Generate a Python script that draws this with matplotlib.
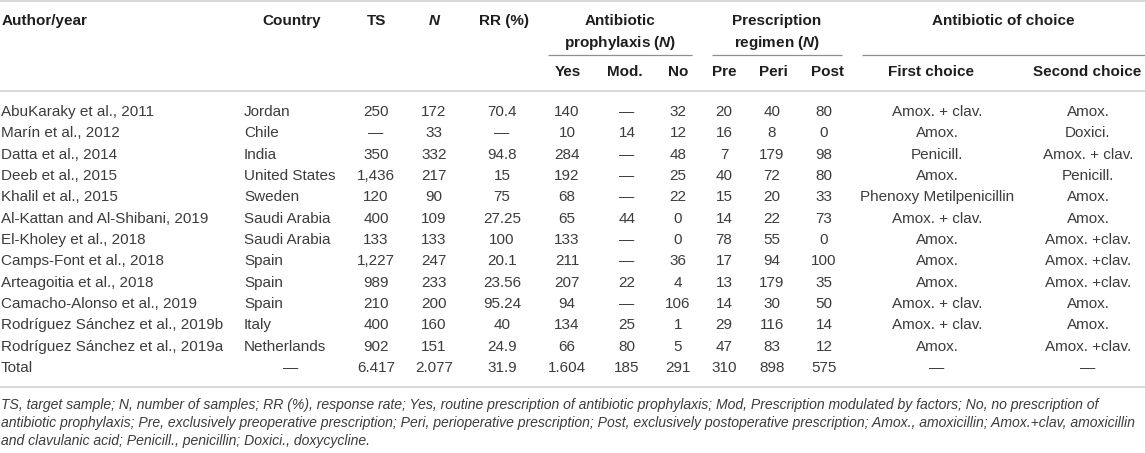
import matplotlib.pyplot as plt

plt.rcParams['font.family'] = ['Liberation Sans', 'DejaVu Sans']
plt.rcParams['mathtext.fontset'] = 'custom'
plt.rcParams['mathtext.bfit'] = 'Liberation Sans:italic:bold'
plt.rcParams['mathtext.it'] = 'Liberation Sans:italic'

authors = ['AbuKaraky et al., 2011', 'Marín et al., 2012', 'Datta et al., 2014',
           'Deeb et al., 2015', 'Khalil et al., 2015', 'Al-Kattan and Al-Shibani, 2019',
           'El-Kholey et al., 2018', 'Camps-Font et al., 2018', 'Arteagoitia et al., 2018',
           'Camacho-Alonso et al., 2019', 'Rodríguez Sánchez et al., 2019b',
           'Rodríguez Sánchez et al., 2019a', 'Total']
countries = ['Jordan', 'Chile', 'India', 'United States', 'Sweden', 'Saudi Arabia',
             'Saudi Arabia', 'Spain', 'Spain', 'Spain', 'Italy', 'Netherlands', '—']
ts = ['250', '—', '350', '1,436', '120', '400', '133', '1,227', '989', '210', '400', '902', '6.417']
n = ['172', '33', '332', '217', '90', '109', '133', '247', '233', '200', '160', '151', '2.077']
rr = ['70.4', '—', '94.8', '15', '75', '27.25', '100', '20.1', '23.56', '95.24', '40', '24.9', '31.9']
yes = ['140', '10', '284', '192', '68', '65', '133', '211', '207', '94', '134', '66', '1.604']
mod = ['—', '14', '—', '—', '—', '44', '—', '—', '22', '—', '25', '80', '185']
no = ['32', '12', '48', '25', '22', '0', '0', '36', '4', '106', '1', '5', '291']
pre = ['20', '16', '7', '40', '15', '14', '78', '17', '13', '14', '29', '47', '310']
peri = ['40', '8', '179', '72', '20', '22', '55', '94', '179', '30', '116', '83', '898']
post = ['80', '0', '98', '80', '33', '73', '0', '100', '35', '50', '14', '12', '575']
first_choice = ['Amox. + clav.', 'Amox.', 'Penicill.', 'Amox.', 'Phenoxy Metilpenicillin',
                'Amox. + clav.', 'Amox.', 'Amox.', 'Amox.', 'Amox. + clav.', 'Amox. + clav.',
                'Amox.', '—']
second_choice = ['Amox.', 'Doxici.', 'Amox. + clav.', 'Penicill.', 'Amox.', 'Amox.',
                 'Amox. +clav.', 'Amox. +clav.', 'Amox. +clav.', 'Amox.', 'Amox.',
                 'Amox. +clav.', '—']

footnote = [
    'TS, target sample; N, number of samples; RR (%), response rate; Yes, routine prescription of antibiotic prophylaxis; Mod, Prescription modulated by factors; No, no prescription of',
    'antibiotic prophylaxis; Pre, exclusively preoperative prescription; Peri, perioperative prescription; Post, exclusively postoperative prescription; Amox., amoxicillin; Amox.+clav, amoxicillin',
    'and clavulanic acid; Penicill., penicillin; Doxici., doxycycline.',
]

W, H = 1145, 453
fig = plt.figure(figsize=(W / 100, H / 100), dpi=100)
ax = fig.add_axes([0, 0, 1, 1])
ax.set_xlim(0, W)
ax.set_ylim(H, 0)
ax.axis('off')

body_col = '#3c3c3c'
head_col = '#1e1e1e'
fs = 11

# horizontal rules
for yl in [1, 91, 387]:
    ax.plot([0, W], [yl, yl], color='#d2d2d2', lw=1.2, solid_capstyle='butt')
for x0, x1 in [(548, 692), (712, 842), (862, W)]:
    ax.plot([x0, x1], [55, 55], color='#8f8f8f', lw=0.9, solid_capstyle='butt')

# headers
hk = dict(fontsize=fs, fontweight='bold', color=head_col, va='center')
ax.text(2, 21, 'Author/year', ha='left', **hk)
ax.text(292, 21, 'Country', ha='center', **hk)
ax.text(377, 21, 'TS', ha='center', **hk)
ax.text(435, 21, r'$\mathbfit{N}$', ha='center', **hk)
ax.text(504, 21, 'RR (%)', ha='center', **hk)
ax.text(620, 21, 'Antibiotic', ha='center', **hk)
ax.text(620, 43, r'prophylaxis ($\mathbfit{N}$)', ha='center', **hk)
ax.text(777, 21, 'Prescription', ha='center', **hk)
ax.text(777, 43, r'regimen ($\mathbfit{N}$)', ha='center', **hk)
ax.text(1003, 21, 'Antibiotic of choice', ha='center', **hk)
subheads = ['Yes', 'Mod.', 'No', 'Pre', 'Peri', 'Post', 'First choice', 'Second choice']
sub_x = [568, 625, 678, 724, 773, 827, 931, 1087]
for s, sx in zip(subheads, sub_x):
    ax.text(sx, 72, s, ha='center', **hk)

# body
row_y0, row_h = 112, 21.33
cols = [ts, n, rr, yes, mod, no, pre, peri, post, first_choice, second_choice]
col_x = [376, 434, 502, 567, 627, 678, 724, 772, 824, 937, 1088]
bk = dict(fontsize=fs, color=body_col, va='center')
for i in range(len(authors)):
    y = row_y0 + i * row_h
    ax.text(1, y, authors[i], ha='left', **bk)
    if countries[i] == '—':
        ax.text(291, y, countries[i], ha='center', **bk)
    else:
        ax.text(244, y, countries[i], ha='left', **bk)
    for col, cx in zip(cols, col_x):
        ax.text(cx, y, col[i], ha='center', **bk)

# footnote, shrunk so the longest line fits the width
foot_texts = []
for j, line in enumerate(footnote):
    t = ax.text(1, 405 + j * 18, line, ha='left', va='center', fontsize=10.4,
                style='italic', color=body_col)
    foot_texts.append(t)
fig.canvas.draw()
r = fig.canvas.get_renderer()
widest = max(t.get_window_extent(r).width for t in foot_texts)
if widest > 1138:
    for t in foot_texts:
        t.set_fontsize(10.4 * 1138 / widest)

fig.savefig('out.png', dpi=100)
